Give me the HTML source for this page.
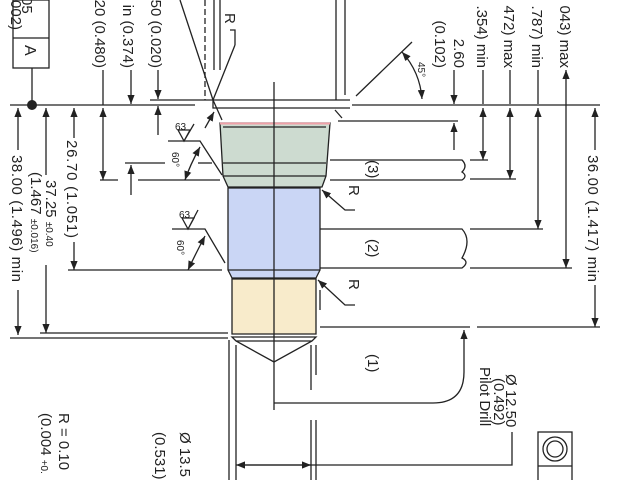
<!DOCTYPE html>
<html><head><meta charset="utf-8"><style>
html,body{margin:0;padding:0;background:#fff;width:640px;height:480px;overflow:hidden}
text{font-family:"Liberation Sans",sans-serif;fill:#222}
</style></head><body>
<svg width="640" height="480" viewBox="0 0 640 480" xmlns="http://www.w3.org/2000/svg">
<defs>
<marker id="a" viewBox="0 0 10 10" refX="10" refY="5" markerWidth="9" markerHeight="9" orient="auto-start-reverse" markerUnits="userSpaceOnUse"><path d="M0,1 L10,5 L0,9 Z" fill="#222"/></marker>
</defs>
<g stroke="#222" stroke-width="1.3" fill="none">
<path d="M220,123 L330,123 L326,176 L322,187 L228,187 L223,176 Z" fill="#cddbd0"/>
<line x1="220" y1="123.5" x2="330" y2="123.5" stroke="#f0a0a8" stroke-width="2"/>
<line x1="223" y1="127" x2="326" y2="127"/>
<line x1="223" y1="163" x2="326" y2="163"/>
<line x1="223" y1="176" x2="326" y2="176"/>
<path d="M228,188 L320,188 L320,270 L316,278 L232,278 L228,270 Z" fill="#cad6f5"/>
<line x1="228" y1="270" x2="320" y2="270"/>
<path d="M232,279 L316,279 L316,334 L232,334 Z" fill="#f8ebcb"/>
<path d="M232,337 L316,337 L312,341 L274,362 L236,341 Z"/>
<line x1="236" y1="341" x2="312" y2="341"/>
<line x1="274" y1="82" x2="274" y2="410"/>
<line x1="229" y1="340" x2="229" y2="480"/><line x1="236" y1="345" x2="236" y2="480"/>
<line x1="311" y1="345" x2="311" y2="390"/><line x1="311" y1="420" x2="311" y2="480"/>
<line x1="316" y1="345" x2="316" y2="375"/><line x1="316" y1="420" x2="316" y2="480"/>
<line x1="320" y1="290" x2="320" y2="310"/>
<line x1="205" y1="0" x2="205" y2="100" stroke-dasharray="6,3"/>
<line x1="214" y1="0" x2="214" y2="70"/><line x1="220" y1="0" x2="220" y2="70"/>
<line x1="336" y1="0" x2="336" y2="100"/><line x1="345" y1="0" x2="345" y2="95"/>
<path d="M180,0 L213,100"/>
<path d="M235,45 L213,100 L222,120"/>
<path d="M235,45 L235,30 L230,30"/>
<line x1="150" y1="100" x2="350" y2="100"/>
<path d="M213,100 L213,108 L350,108"/>
<line x1="335" y1="110" x2="342" y2="118"/>
<line x1="10" y1="105" x2="195" y2="105"/>
<line x1="352" y1="105" x2="600" y2="105"/>
<line x1="356" y1="96" x2="412" y2="42"/>
<path d="M402,52 Q420,72 422,99" marker-start="url(#a)" marker-end="url(#a)"/>
<rect x="13" y="0" width="36" height="68"/><line x1="13" y1="38" x2="49" y2="38"/>
<line x1="32" y1="68" x2="32" y2="105"/>
<line x1="125" y1="163" x2="165" y2="163"/><line x1="198" y1="163" x2="212" y2="163"/>
<line x1="100" y1="180" x2="118" y2="180"/><line x1="138" y1="180" x2="220" y2="180"/>
<line x1="68" y1="270" x2="222" y2="270"/>
<line x1="40" y1="333" x2="228" y2="333"/>
<line x1="10" y1="338" x2="228" y2="338"/>
<path d="M168,141 L200,141 L222,175"/><path d="M178,130 L184,141 L190,130 Z M184,141 L194,124"/>
<path d="M172,229 L205,229 L225,263"/><path d="M182,218 L188,229 L194,218 Z M188,229 L198,210"/>
<path d="M214,112 L205,128" marker-start="url(#a)"/>
<path d="M200,147 Q190,165 185,180" marker-start="url(#a)" marker-end="url(#a)"/>
<path d="M205,236 Q195,255 188,270" marker-start="url(#a)" marker-end="url(#a)"/>
<line x1="18" y1="108" x2="18" y2="150" marker-start="url(#a)"/><line x1="18" y1="290" x2="18" y2="335" marker-end="url(#a)"/>
<line x1="46" y1="108" x2="46" y2="175" marker-start="url(#a)"/><line x1="46" y1="265" x2="46" y2="333" marker-end="url(#a)"/>
<line x1="74" y1="108" x2="74" y2="138" marker-start="url(#a)"/>
<line x1="74" y1="242" x2="74" y2="270" marker-end="url(#a)"/>
<line x1="103" y1="70" x2="103" y2="105"/>
<line x1="103" y1="108" x2="103" y2="180" marker-start="url(#a)" marker-end="url(#a)"/>
<line x1="131" y1="70" x2="131" y2="104" marker-end="url(#a)"/>
<line x1="131" y1="195" x2="131" y2="165" marker-end="url(#a)"/>
<line x1="158" y1="70" x2="158" y2="99" marker-end="url(#a)"/>
<line x1="158" y1="135" x2="158" y2="106" marker-end="url(#a)"/>
<path d="M330,160 L462,160 Q468,166 462,172 Q468,176 462,180 L330,180"/>
<line x1="470" y1="160" x2="488" y2="160"/><line x1="470" y1="179" x2="516" y2="179"/>
<path d="M320,229 L462,229 Q472,240 462,258 Q470,262 462,268 L320,268"/>
<line x1="470" y1="229" x2="543" y2="229"/><line x1="470" y1="268" x2="572" y2="268"/>
<line x1="320" y1="327" x2="470" y2="327"/><line x1="477" y1="327" x2="600" y2="327"/>
<line x1="338" y1="121" x2="458" y2="121"/>
<line x1="454" y1="150" x2="454" y2="123" marker-end="url(#a)"/>
<line x1="454" y1="70" x2="454" y2="104" marker-end="url(#a)"/>
<line x1="483" y1="70" x2="483" y2="104"/>
<line x1="483" y1="108" x2="483" y2="160" marker-start="url(#a)" marker-end="url(#a)"/>
<line x1="510" y1="70" x2="510" y2="104"/>
<line x1="510" y1="108" x2="510" y2="179" marker-start="url(#a)" marker-end="url(#a)"/>
<line x1="538" y1="70" x2="538" y2="104"/>
<line x1="538" y1="108" x2="538" y2="229" marker-start="url(#a)" marker-end="url(#a)"/>
<line x1="566" y1="70" x2="566" y2="268" marker-start="url(#a)" marker-end="url(#a)"/>
<line x1="595" y1="108" x2="595" y2="150" marker-start="url(#a)"/><line x1="595" y1="285" x2="595" y2="327" marker-end="url(#a)"/>
<path d="M355,210 L345,210 L322,190" marker-end="url(#a)"/>
<path d="M355,305 L345,305 L318,280" marker-end="url(#a)"/>
<path d="M274,403 L433,403 Q464,403 464,372 L464,330" marker-end="url(#a)"/>
<path d="M240,465 L512,465 L512,432"/>
<line x1="236" y1="465" x2="311" y2="465" marker-start="url(#a)" marker-end="url(#a)"/>
<rect x="538" y="432" width="34" height="60"/><line x1="538" y1="466" x2="572" y2="466"/>
<circle cx="555" cy="449" r="12"/><circle cx="555" cy="449" r="8"/>
</g>
<circle cx="32" cy="105" r="5" fill="#222"/>
<g font-size="15">
<text transform="translate(22,0) rotate(90)" x="-3">05</text>
<text transform="translate(11,0) rotate(90)">002)</text>
<text transform="translate(25,45) rotate(90)" font-size="16">A</text>
<text transform="translate(95,68) rotate(90)" text-anchor="end">20 (0.480)</text>
<text transform="translate(123,68) rotate(90)" text-anchor="end">in (0.374)</text>
<text transform="translate(151,68) rotate(90)" text-anchor="end">50 (0.020)</text>
<text transform="translate(67,140) rotate(90)" textLength="98" lengthAdjust="spacing">26.70 (1.051)</text>
<text transform="translate(46,180) rotate(90)">37.25 <tspan font-size="10">±0.40</tspan></text>
<text transform="translate(31,172) rotate(90)">(1.467 <tspan font-size="10">±0.016)</tspan></text>
<text transform="translate(12,155) rotate(90)" textLength="127" lengthAdjust="spacing">38.00 (1.496) min</text>
<text transform="translate(59,413) rotate(90)">R = 0.10</text>
<text transform="translate(41,413) rotate(90)">(0.004 <tspan font-size="10">+0.</tspan></text>
<text transform="translate(180,432) rotate(90)">Ø 13.5</text>
<text transform="translate(155,432) rotate(90)">(0.531)</text>
<text transform="translate(454,68) rotate(90)" text-anchor="end">2.60</text>
<text transform="translate(435,68) rotate(90)" text-anchor="end">(0.102)</text>
<text transform="translate(477,68) rotate(90)" text-anchor="end">.354) min</text>
<text transform="translate(504,68) rotate(90)" text-anchor="end">472) max</text>
<text transform="translate(532,68) rotate(90)" text-anchor="end">.787) min</text>
<text transform="translate(560,68) rotate(90)" text-anchor="end">043) max</text>
<text transform="translate(588,155) rotate(90)" textLength="127" lengthAdjust="spacing">36.00 (1.417) min</text>
<text transform="translate(368,160) rotate(90)">(3)</text>
<text transform="translate(368,239) rotate(90)">(2)</text>
<text transform="translate(368,354) rotate(90)">(1)</text>
<text transform="translate(349,185) rotate(90)">R</text>
<text transform="translate(349,279) rotate(90)">R</text>
<text transform="translate(225,13) rotate(90)">R</text>
<text transform="translate(506,374) rotate(90)">Ø 12.50</text>
<text transform="translate(494,378) rotate(90)">(0.492)</text>
<text transform="translate(480,367) rotate(90)">Pilot Drill</text>
</g>
<g font-size="10">
<text x="175" y="130">63</text><text x="179" y="218">63</text>
<text transform="translate(172,152) rotate(90)">60°</text>
<text transform="translate(177,240) rotate(90)">60°</text>
<text transform="translate(418,62) rotate(90)">45°</text>
</g>
</svg>
</body></html>
